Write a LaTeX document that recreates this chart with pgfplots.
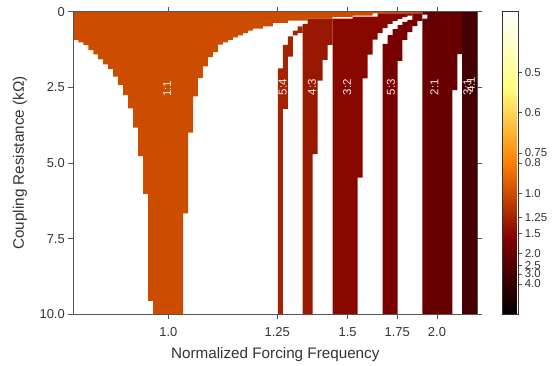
\documentclass[border=0pt]{standalone}
\usepackage{pgfplots}
\pgfplotsset{compat=1.18}
\usepackage{fontspec}
\setmainfont{Liberation Sans}
\definecolor{c11}{rgb}{0.8,0.3,0}
\definecolor{c54}{rgb}{0.64,0.14,0}
\definecolor{c43}{rgb}{0.6,0.1,0}
\definecolor{c32}{rgb}{0.5333,0.0333,0}
\definecolor{c53}{rgb}{0.48,0,0}
\definecolor{c21}{rgb}{0.4,0,0}
\definecolor{c31}{rgb}{0.2667,0,0}
\definecolor{axgray}{rgb}{0.33,0.33,0.33}
\definecolor{txtgray}{rgb}{0.2,0.2,0.2}
\begin{document}
\begin{tikzpicture}
\begin{axis}[
  scale only axis,
  width=404bp, height=302.6bp,
  xmin=0, xmax=81, ymin=0, ymax=10,
  y dir=reverse,
  axis on top,
  xtick={19.05,40.9,55.01,64.96,72.91},
  xticklabels={1.0,1.25,1.5,1.75,2.0},
  ytick={0,2.5,5,7.5,10},
  yticklabels={0,2.5,5.0,7.5,10.0},
  tick align=outside,
  major tick length=5bp,
  every tick/.style={axgray, line width=0.8bp},
  axis line style={axgray, line width=0.8bp},
  tick label style={font=\fontsize{13}{15}\selectfont, text=txtgray},
  xticklabel style={yshift=-5bp},
  xlabel={Normalized Forcing Frequency},
  ylabel={Coupling Resistance (kΩ)},
  label style={font=\fontsize{15.3}{18}\selectfont, text=txtgray},
  xlabel style={at={(axis description cs:0.5,-0.134)}, anchor=center},
  ylabel style={at={(axis description cs:-0.132,0.5)}, anchor=center},
  colormap={afmhot}{rgb=(0,0,0) rgb=(0.5,0,0) rgb=(1,0.5,0) rgb=(1,1,0.5) rgb=(1,1,1)},
  point meta min=0, point meta max=2.5,
  colorbar,
  colorbar style={
    at={(parent axis.north east)}, anchor=north west, xshift=16.5bp,
    scale only axis, width=16bp, height=302.6bp,
    y dir=normal,
    ytick={2,1.6667,1.3333,1.25,1,0.8,0.6667,0.5,0.4,0.3333,0.25},
    yticklabels={0.5,0.6,0.75,0.8,1.0,1.25,1.5,2.0,2.5,3.0,4.0},
    ytick pos=right,
    yticklabel style={font=\fontsize{11.5}{13}\selectfont, text=txtgray, xshift=-1bp},
    major tick length=4bp, tick align=outside,
    axis line style={black!80, line width=0.8bp},
  },
]
% 1:1 tongue
\addplot[fill=c11, draw=none] coordinates {
(0,0) (70,0) (70,0.059) (60,0.059) (60,0.126) (56,0.126) (56,0.175) (52,0.175) (52,0.231) (47,0.231) (47,0.297) (43,0.297) (43,0.373) (40,0.373) (40,0.482) (38,0.482) (38,0.562) (36,0.562) (36,0.628) (35,0.628) (35,0.704) (34,0.704) (34,0.780) (33,0.780) (33,0.846) (32,0.846) (32,0.935) (31,0.935) (31,1.011) (30,1.011) (30,1.091) (29,1.091) (29,1.332) (28,1.332) (28,1.497) (27,1.497) (27,1.804) (26,1.804) (26,2.191) (25,2.191) (25,2.796) (24,2.796) (24,3.999) (23,3.999) (23,6.662) (22,6.662) (22,10) (16,10) (16,9.560) (15,9.560) (15,6.024) (14,6.024) (14,4.769) (13,4.769) (13,3.833) (12,3.833) (12,3.192) (11,3.192) (11,2.753) (10,2.753) (10,2.422) (9,2.422) (9,2.148) (8,2.148) (8,1.894) (7,1.894) (7,1.738) (6,1.738) (6,1.573) (5,1.573) (5,1.408) (4,1.408) (4,1.266) (3,1.266) (3,1.100) (2,1.100) (2,1.011) (1,1.011) (1,0.935) (0,0.935)
};
% 5:4 tongue
\addplot[fill=c54, draw=none] coordinates {
(41,1.870) (42,1.870) (42,1.100) (43,1.100) (43,0.813) (44,0.813) (44,0.628) (45,0.628) (45,0.482) (46,0.482) (46,0.700) (45,0.700) (45,0.780) (44,0.780) (44,1.487) (43,1.487) (43,3.215) (42,3.215) (42,10) (41,10)
};
% 4:3 tongue
\addplot[fill=c43, draw=none] coordinates {
(46,0.40) (47,0.40) (47,0.231) (52,0.231) (52,1.100) (51,1.100) (51,1.596) (50,1.596) (50,2.280) (49,2.280) (49,4.703) (48,4.703) (48,10) (46,10)
};
% 3:2 tongue
\addplot[fill=c32, draw=none] coordinates {
(52,0.231) (56,0.231) (56,0.159) (61,0.159) (61,0.059) (68,0.059) (68,0.13) (67,0.13) (67,0.18) (66,0.18) (66,0.24) (65,0.24) (65,0.307) (64,0.307) (64,0.406) (63,0.406) (63,0.539) (62,0.539) (62,0.704) (61,0.704) (61,0.925) (60,0.925) (60,1.421) (59,1.421) (59,2.201) (58,2.201) (58,5.486) (57,5.486) (57,10) (52,10)
};
% 5:3 tongue
\addplot[fill=c53, draw=none] coordinates {
(62,1.067) (63,1.067) (63,0.770) (64,0.770) (64,0.572) (65,0.572) (65,0.440) (66,0.440) (66,0.340) (67,0.340) (67,0.274) (68,0.274) (68,0.059) (70,0.059) (70,0.307) (69,0.307) (69,0.473) (68,0.473) (68,0.671) (67,0.671) (67,0.935) (66,0.935) (66,1.629) (65,1.629) (65,10) (62,10)
};
% 2:1 tongue
\addplot[fill=c21, draw=none] coordinates {
(70,0) (78,0) (78,1.398) (77,1.398) (77,2.588) (76,2.588) (76,10) (70,10) (70,0.231) (71,0.231) (71,0.10) (70,0.10)
};
% 3:1 tongue
\addplot[fill=c31, draw=none] coordinates {
(78,0) (81,0) (81,10) (78,10)
};
\coordinate (sw) at (axis description cs:0,0);
\coordinate (ne) at (axis description cs:1,1);
\begin{scope}[every node/.style={rotate=90, text=white, opacity=0.9, font=\fontsize{11.5}{13}\selectfont}]
\node at (axis cs:18.8,2.55) {1:1};
\node at (axis cs:42.0,2.5) {5:4};
\node at (axis cs:47.85,2.5) {4:3};
\node at (axis cs:54.9,2.5) {3:2};
\node at (axis cs:63.7,2.5) {5:3};
\node at (axis cs:72.4,2.5) {2:1};
\node at (axis cs:79.0,2.5) {3:1};
\node at (axis cs:79.7,2.42) {4:1};
\end{scope}
\end{axis}
\pgfresetboundingbox
\path[use as bounding box] ([xshift=-73.3bp,yshift=-50.7bp]sw) rectangle ([xshift=74.7bp,yshift=11.7bp]ne);
\end{tikzpicture}
\end{document}
